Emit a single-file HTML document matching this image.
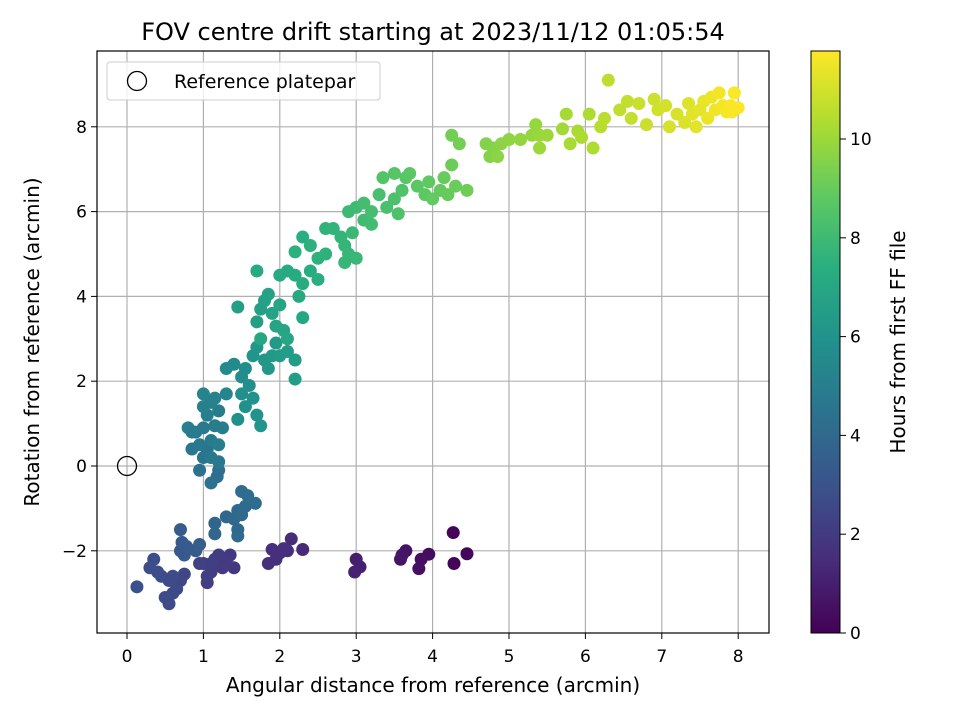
<!DOCTYPE html>
<html><head><meta charset="utf-8"><style>body{margin:0;background:#fff}svg{font-family:"DejaVu Sans","Liberation Sans",sans-serif}</style></head>
<body>
<svg id="chart" width="960" height="720" xmlns="http://www.w3.org/2000/svg">
<defs><linearGradient id="vir" x1="0" y1="1" x2="0" y2="0">
<stop offset="0" stop-color="#440154"/><stop offset="0.125" stop-color="#472d7b"/><stop offset="0.25" stop-color="#3b528b"/><stop offset="0.375" stop-color="#2c728e"/><stop offset="0.5" stop-color="#21918c"/><stop offset="0.625" stop-color="#28ae80"/><stop offset="0.75" stop-color="#5ec962"/><stop offset="0.875" stop-color="#addc30"/><stop offset="1" stop-color="#fde725"/></linearGradient></defs>
<text x="433" y="40" font-size="24" text-anchor="middle">FOV centre drift starting at 2023/11/12 01:05:54</text>
<g id="grid"></g><g id="pts"></g>
<rect x="97" y="51" width="672" height="582" fill="none" stroke="#000" stroke-width="1.2"/>
<g id="ticks"></g>
<text x="433" y="692" font-size="20" text-anchor="middle">Angular distance from reference (arcmin)</text>
<text transform="translate(39,342) rotate(-90)" font-size="20" text-anchor="middle">Rotation from reference (arcmin)</text>
<g>
<rect x="107" y="62" width="273" height="38" rx="3" fill="#fff" fill-opacity="0.8" stroke="#ccc"/>
<circle cx="137" cy="81" r="9.5" fill="none" stroke="#000" stroke-width="1.3"/>
<text x="174" y="88" font-size="19">Reference platepar</text></g>
<rect x="811" y="51" width="29" height="582" fill="url(#vir)" stroke="#000" stroke-width="1"/>
<g id="cbt"></g>
<text transform="translate(905,342) rotate(-90)" font-size="20" text-anchor="middle">Hours from first FF file</text>
</svg>
<script>
const xTicks=[0,1,2,3,4,5,6,7,8];
const yTicks=[-2,0,2,4,6,8];
const cTicks=[0,2,4,6,8,10];
const xs=[4.27,4.45,4.28,3.95,3.85,3.82,3.65,3.58,3.6,3.0,3.05,2.98,2.3,2.15,2.1,2.0,1.9,1.85,1.95,2.05,1.4,1.35,1.3,1.25,1.2,1.15,1.1,1.05,1.0,1.1,1.05,0.95,0.75,0.7,0.65,0.6,0.55,0.5,0.45,0.4,0.35,0.3,0.13,0.6,0.55,0.7,0.75,0.8,0.72,0.78,0.7,0.9,0.95,1.15,1.15,1.3,1.4,1.45,1.45,1.5,1.45,1.55,1.5,1.58,1.68,1.2,1.18,1.1,0.95,1.0,1.05,0.85,0.9,0.95,1.0,1.1,1.15,1.2,1.25,1.2,1.05,1.0,1.1,1.15,1.0,0.8,1.3,1.2,1.1,0.85,1.3,1.4,1.5,1.55,1.6,1.5,1.45,1.55,1.65,1.7,1.75,1.65,1.7,1.8,1.85,1.9,1.95,2.0,2.1,2.2,2.2,1.45,1.7,1.75,1.8,1.85,1.9,1.95,2.0,2.05,2.1,1.75,2.3,2.25,1.7,2.0,2.1,2.2,2.3,2.4,2.5,2.3,2.4,2.5,2.6,2.2,2.6,2.7,2.8,2.85,2.9,2.85,3.0,2.95,2.9,3.0,3.1,3.2,3.1,3.2,3.3,3.4,3.5,3.55,3.6,3.35,3.5,3.65,3.7,3.8,3.9,3.95,4.0,4.1,4.15,4.2,4.3,4.25,4.45,4.25,4.35,4.7,4.75,4.8,4.85,4.9,5.0,5.15,5.3,5.35,5.4,5.5,5.4,5.7,5.75,5.8,5.9,6.05,6.1,5.95,6.2,6.25,6.3,6.45,6.55,6.6,6.7,6.8,6.9,6.95,7.05,7.1,7.2,7.3,7.35,7.4,7.45,7.5,7.55,7.6,7.65,7.7,7.75,7.8,7.85,7.9,7.95,8.0,7.92];
const ys=[-1.57,-2.07,-2.3,-2.08,-2.2,-2.42,-2.0,-2.2,-2.1,-2.2,-2.38,-2.5,-1.97,-1.72,-2.0,-2.05,-1.97,-2.3,-2.2,-1.95,-2.4,-2.1,-2.25,-2.4,-2.1,-2.2,-2.5,-2.75,-2.3,-2.3,-2.6,-2.3,-2.55,-2.7,-2.9,-3.0,-3.25,-3.1,-2.6,-2.5,-2.2,-2.4,-2.85,-2.6,-2.7,-2.0,-2.1,-1.95,-1.8,-1.9,-1.5,-2.0,-1.85,-1.35,-1.6,-1.2,-1.25,-1.05,-1.5,-1.15,-1.65,-0.95,-0.6,-0.7,-0.88,-0.1,-0.25,-0.4,-0.1,0.2,0.4,0.4,0.8,0.5,0.9,0.6,0.95,1.3,0.9,0.5,1.2,1.4,1.5,1.6,1.7,0.9,1.7,0.1,0.2,0.8,2.3,2.4,2.1,2.3,1.9,1.7,1.1,1.4,1.6,1.2,0.95,2.6,2.8,2.5,2.3,2.6,2.9,2.6,2.7,2.5,2.05,3.75,3.4,3.7,3.9,4.05,3.6,3.3,3.8,3.2,3.0,3.0,3.5,4.0,4.6,4.5,4.6,4.5,4.3,4.6,4.4,5.4,5.2,4.9,5.0,5.05,5.6,5.6,5.4,5.2,5.0,4.8,4.9,5.5,6.0,6.1,5.8,5.7,6.2,6.0,6.4,6.1,6.3,5.95,6.5,6.8,6.9,6.8,6.9,6.6,6.4,6.7,6.3,6.5,6.8,6.4,6.6,7.1,6.5,7.8,7.6,7.6,7.3,7.5,7.3,7.6,7.7,7.7,7.8,8.05,7.8,7.8,7.5,7.95,8.3,7.6,7.9,8.3,7.5,7.75,8.0,8.2,9.1,8.4,8.6,8.2,8.55,8.05,8.65,8.4,8.5,8.0,8.3,8.1,8.55,8.3,8.0,8.4,8.6,8.2,8.7,8.4,8.8,8.5,8.35,8.5,8.8,8.45,8.35];
const hours=[0.1,0.2,0.15,0.4,0.45,0.5,0.6,0.65,0.7,1.0,1.05,1.1,1.4,1.45,1.5,1.5,1.55,1.6,1.6,1.55,1.9,1.95,2.0,2.0,2.05,2.1,2.1,2.15,2.2,2.2,2.2,2.25,2.5,2.5,2.6,2.6,2.65,2.7,2.7,2.75,2.8,2.8,2.9,2.75,2.7,3.2,3.25,3.3,3.3,3.35,3.4,3.4,3.45,3.8,3.85,3.9,3.95,4.0,4.0,4.05,4.1,4.1,4.15,4.2,4.2,4.3,4.3,4.35,4.4,4.5,4.5,4.6,4.65,4.7,4.75,4.8,4.85,4.9,4.95,5.0,5.05,5.1,5.15,5.2,5.25,5.0,5.3,4.7,4.8,4.9,5.6,5.6,5.7,5.75,5.8,5.8,5.85,5.9,6.0,6.0,6.05,6.1,6.15,6.2,6.25,6.3,6.35,6.4,6.45,6.5,6.5,6.6,6.6,6.65,6.7,6.75,6.8,6.85,6.9,6.9,6.95,6.95,7.0,7.05,7.1,7.1,7.15,7.2,7.25,7.3,7.35,7.4,7.45,7.5,7.5,7.45,7.6,7.65,7.7,7.75,7.8,7.8,7.85,7.9,7.95,8.0,8.05,8.1,8.15,8.2,8.25,8.3,8.35,8.4,8.45,8.5,8.6,8.65,8.7,8.75,8.8,8.85,8.9,8.95,9.0,9.0,9.05,9.1,9.15,9.2,9.25,9.5,9.55,9.6,9.65,9.7,9.75,9.8,9.85,9.9,9.95,10.0,10.0,10.1,10.15,10.2,10.25,10.3,10.35,10.3,10.5,10.55,10.6,10.65,10.7,10.75,10.8,10.85,10.9,10.95,11.0,11.05,11.1,11.15,11.2,11.25,11.3,11.35,11.4,11.45,11.5,11.55,11.6,11.62,11.65,11.7,11.72,11.75,11.7];
const NS="http://www.w3.org/2000/svg";
const X=v=>127+v*76.4, Y=v=>466-v*42.4, C=v=>633-v*49.4, HMAX=11.78;
const stops=["#440154","#472d7b","#3b528b","#2c728e","#21918c","#28ae80","#5ec962","#addc30","#fde725"].map(h=>[1,3,5].map(i=>parseInt(h.substr(i,2),16)));
function vir(t){t=Math.max(0,Math.min(1,t))*8;const i=Math.min(7,Math.floor(t)),f=t-i;const a=stops[i],b=stops[i+1];return "rgb("+a.map((v,k)=>Math.round(v+(b[k]-v)*f)).join(",")+")";}
function mk(tag,attrs,parent,txt){const e=document.createElementNS(NS,tag);for(const k in attrs)e.setAttribute(k,attrs[k]);if(txt!==undefined)e.textContent=txt;parent.appendChild(e);return e;}
const grid=document.getElementById('grid'),ticks=document.getElementById('ticks'),pts=document.getElementById('pts'),cbt=document.getElementById('cbt');
xTicks.forEach(v=>{const x=X(v);
const g=mk('line',{x1:x,x2:x,y1:51,y2:633,stroke:'#b0b0b0','stroke-width':1.2},grid);


mk('line',{x1:x,x2:x,y1:633,y2:639,stroke:'#000'},ticks);
const t=mk('text',{x:x,y:662,'font-size':17,'text-anchor':'middle'},ticks,String(v));

});
yTicks.forEach(v=>{const y=Y(v);
const g=mk('line',{x1:97,x2:769,y1:y,y2:y,stroke:'#b0b0b0','stroke-width':1.2},grid);


mk('line',{x1:91,x2:97,y1:y,y2:y,stroke:'#000'},ticks);
const t=mk('text',{x:87,y:y+6,'font-size':17,'text-anchor':'end'},ticks,v<0?'\u2212'+(-v):String(v));

});
cTicks.forEach(v=>{const y=C(v);
mk('line',{x1:840,x2:846,y1:y,y2:y,stroke:'#000'},cbt);
const t=mk('text',{x:850,y:y+6,'font-size':17},cbt,String(v));

});
xs.forEach((x,i)=>{const c=mk('circle',{cx:X(x),cy:Y(ys[i]),r:6.5,fill:vir(hours[i]/HMAX)},pts);

});
const ref=mk('circle',{cx:X(0),cy:Y(0),r:9.5,fill:'none',stroke:'#000','stroke-width':1.3},pts);


</script>
</body></html>
